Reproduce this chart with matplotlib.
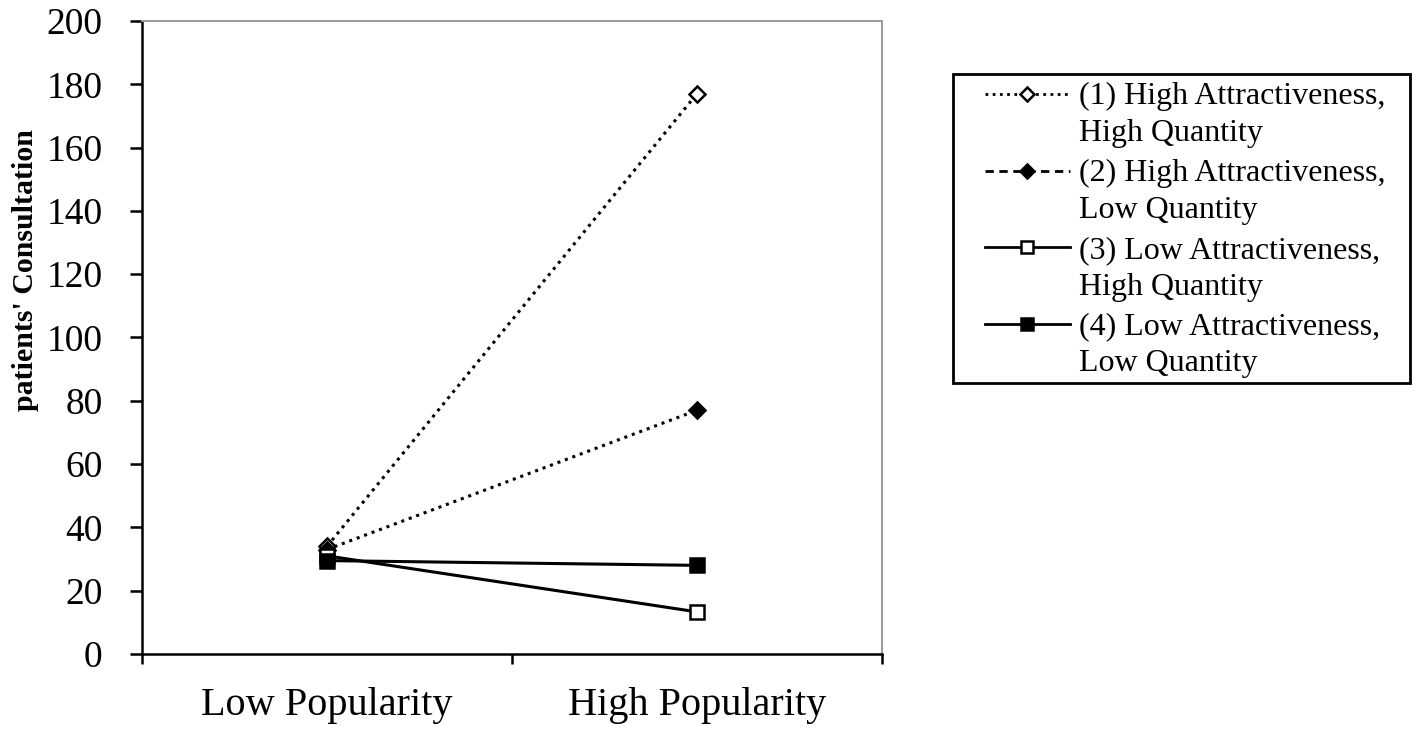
import matplotlib.pyplot as plt
from matplotlib.lines import Line2D
from matplotlib.patches import Rectangle
from matplotlib.legend_handler import HandlerLine2D

plt.rcParams['font.family'] = ['Liberation Serif', 'DejaVu Serif']

# data
conditions = ['Low Popularity', 'High Popularity']
labels = ['(1) High Attractiveness,\nHigh Quantity',
          '(2) High Attractiveness,\nLow Quantity',
          '(3) Low Attractiveness,\nHigh Quantity',
          '(4) Low Attractiveness,\nLow Quantity']
s1 = [34, 177]
s2 = [33, 77]
s3 = [31, 13.3]
s4 = [29.5, 28]
series = [s1, s2, s3, s4]

# styles (plot line, legend line, marker, face)
plot_ls = [(0, (1, 1.6)), (0, (1, 1.6)), '-', '-']
leg_ls = [(0, (1, 1.6)), (0, (3, 2)), '-', '-']
markers = ['D', 'D', 's', 's']
faces = ['white', 'black', 'white', 'black']
msizes = [8, 8, 10, 10]


class FirstLineHandler(HandlerLine2D):
    # put the legend key next to the first line of a two-line label
    def create_artists(self, legend, orig_handle, xdescent, ydescent, width,
                       height, fontsize, trans):
        arts = super().create_artists(legend, orig_handle, xdescent, ydescent,
                                      width, height, fontsize, trans)
        for a in arts:
            a.set_ydata([y + 0.66 * fontsize for y in a.get_ydata()])
        return arts


W, H = 1417, 732
fig = plt.figure(figsize=(W / 100, H / 100), dpi=100)
ax = fig.add_axes([0.1002, 0.1066, 0.5222, 0.8647])

x = list(range(len(conditions)))
for s, ls, m, fc, ms in zip(series, plot_ls, markers, faces, msizes):
    ax.plot(x, s, color='black', linestyle=ls, linewidth=2.2, marker=m,
            markersize=ms, markerfacecolor=fc, markeredgecolor='black',
            markeredgewidth=1.8)

ax.set_xlim(-0.5, 1.5)
ax.set_ylim(0, 200)
ax.set_yticks(range(0, 201, 20))
ax.set_xticks([-0.5, 0.5, 1.5])
ax.set_xticklabels([])
ax.set_xticks(x, minor=True)
ax.set_xticklabels(conditions, minor=True)
ax.tick_params(axis='x', which='major', length=7, width=1.8, direction='out')
ax.tick_params(axis='x', which='minor', length=0, pad=24, labelsize=29)
ax.tick_params(axis='y', length=8.5, width=1.8, direction='out', pad=20,
               labelsize=27)

for side in ['left', 'bottom']:
    ax.spines[side].set_linewidth(1.8)
    ax.spines[side].set_color('black')
for side in ['top', 'right']:
    ax.spines[side].set_linewidth(1.4)
    ax.spines[side].set_color('#999999')

fig.text(0.018, 0.631, "patients' Consultation", rotation=90, fontsize=21.5,
         fontweight='bold', ha='center', va='center')

# legend box drawn separately (wider side padding than a matplotlib frame)
fig.patches.append(Rectangle((953 / W, 1 - 383 / H), 457 / W, 309 / H,
                             transform=fig.transFigure, fill=False,
                             edgecolor='black', linewidth=2))

handles = [Line2D([], [], color='black', linestyle=ls, linewidth=2.0, marker=m,
                  markersize=ms * 0.85, markerfacecolor=fc,
                  markeredgecolor='black', markeredgewidth=1.8)
           for ls, m, fc, ms in zip(leg_ls, markers, faces, msizes)]
leg = fig.legend(handles, labels, loc='upper left',
                 bbox_to_anchor=(985 / W, 1 - 82 / H),
                 bbox_transform=fig.transFigure,
                 handler_map={Line2D: FirstLineHandler()},
                 fontsize=23, frameon=False, handlelength=2.65,
                 handletextpad=0.3, labelspacing=0.34, borderpad=0,
                 borderaxespad=0)
for t in leg.get_texts():
    t.set_linespacing(1.36)

fig.savefig('out.png', dpi=100)
